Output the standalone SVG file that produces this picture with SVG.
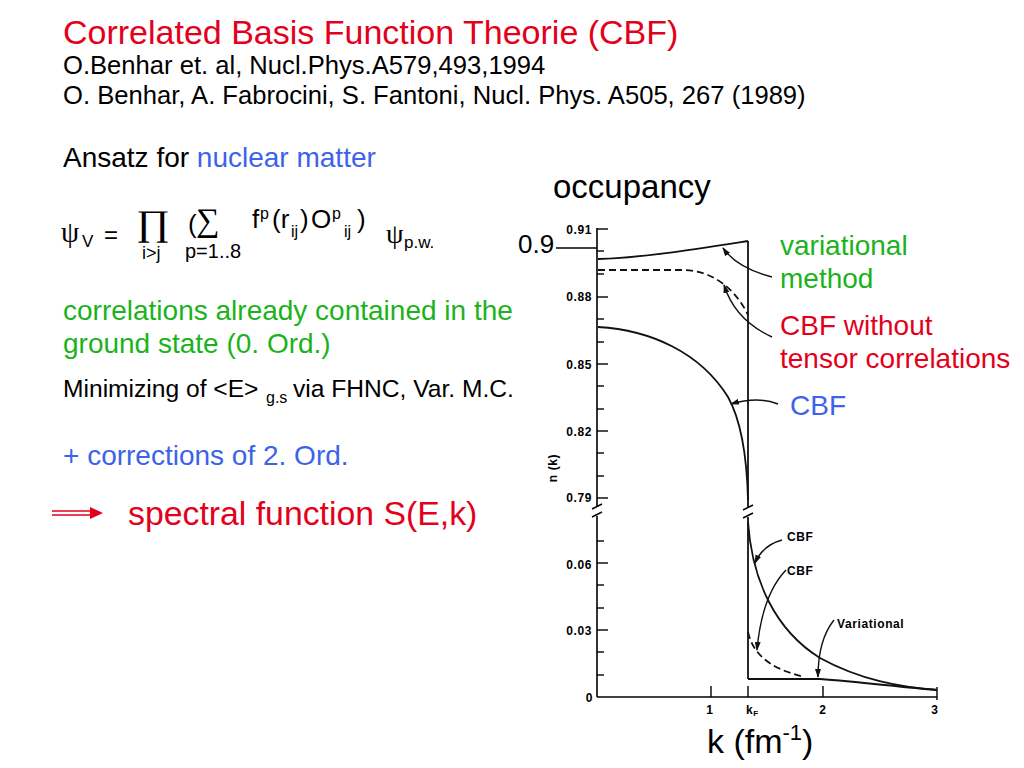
<svg xmlns="http://www.w3.org/2000/svg" width="1024" height="768" viewBox="0 0 1024 768">
<defs>
<style>
text{font-family:"Liberation Sans",Arial,Helvetica,sans-serif;fill:#000}
.red{fill:#e3001b}.green{fill:#1bb31b}.blue{fill:#3d63e8}
.serif{font-family:"Liberation Serif","Times New Roman",serif}
.fig{font-family:"Liberation Sans",Arial,sans-serif;font-size:12px;letter-spacing:0.6px;font-weight:bold}
.ax{stroke:#000;stroke-width:1.6;fill:none}
.cv{stroke:#111;stroke-width:1.8;fill:none}
.dash{stroke:#111;stroke-width:1.8;fill:none;stroke-dasharray:7,4}
.tk{stroke:#000;stroke-width:1.4}
.ann{stroke:#111;stroke-width:1.4;fill:none;marker-end:url(#ah)}
</style>
<marker id="ah" markerWidth="9" markerHeight="6" refX="8" refY="3" orient="auto" markerUnits="userSpaceOnUse">
<path d="M0,0 L9,3 L0,6 z" fill="#111"/>
</marker>
</defs>
<rect width="1024" height="768" fill="#fff"/>

<g id="title">
<text x="63" y="44" font-size="34" class="red">Correlated Basis Function Theorie (CBF)</text>
<text x="63" y="74" font-size="25.6">O.Benhar et. al, Nucl.Phys.A579,493,1994</text>
<text x="63" y="104" font-size="25.6">O. Benhar, A. Fabrocini, S. Fantoni, Nucl. Phys. A505, 267 (1989)</text>
</g>

<g id="ansatz">
<text x="63" y="167" font-size="28">Ansatz for <tspan class="blue">nuclear matter</tspan></text>
</g>

<g id="formula">
<text x="61" y="242" font-size="29" class="serif">ψ</text>
<text x="82" y="247" font-size="17">V</text>
<text x="104" y="243" font-size="24">=</text>
<text transform="translate(136,235) scale(1.15,1)" font-size="36" class="serif">∏</text>
<text x="142" y="259" font-size="18">i&gt;j</text>
<text x="188" y="233" font-size="26">(</text>
<text x="196" y="231" font-size="33" class="serif">∑</text>
<text x="185" y="258" font-size="20">p=1..8</text>
<text font-size="26" y="228"><tspan x="252">f</tspan><tspan x="260" y="219" font-size="16">p</tspan><tspan x="272" y="228">(r</tspan><tspan x="291" y="237" font-size="16">ij</tspan><tspan x="300" y="228">)</tspan><tspan x="311" y="228">O</tspan><tspan x="332" y="219" font-size="16">p</tspan><tspan x="344" y="237" font-size="16">ij</tspan><tspan x="357" y="228">)</tspan></text>
<text x="386" y="243" font-size="28" class="serif">ψ</text>
<text x="404" y="248" font-size="17">p.w.</text>
</g>

<g id="notes">
<text x="63" y="320" font-size="28" class="green">correlations already contained in the</text>
<text x="63" y="353" font-size="28" class="green">ground state (0. Ord.)</text>
<text x="63" y="397" font-size="24.6">Minimizing of &lt;E&gt;<tspan x="266" y="403" font-size="16">g.s</tspan><tspan x="293" y="397">via FHNC, Var. M.C.</tspan></text>
<text x="63" y="465" font-size="28" class="blue">+ corrections of 2. Ord.</text>
</g>

<g id="spectral">
<line x1="52" y1="511" x2="94" y2="511" stroke="#e3001b" stroke-width="1.6"/>
<line x1="52" y1="515" x2="94" y2="515" stroke="#e3001b" stroke-width="1.6"/>
<polygon points="90,507 103,513 90,519" fill="#e3001b"/>
<text x="128" y="525" font-size="33.8" class="red">spectral function S(E,k)</text>
</g>

<g id="labels">
<text x="553" y="198" font-size="33">occupancy</text>
<text x="518" y="253" font-size="26">0.9</text>
<line x1="556" y1="248" x2="597" y2="248" stroke="#000" stroke-width="1.4"/>
<text x="780" y="255" font-size="28" class="green">variational</text>
<text x="780" y="288" font-size="28" class="green">method</text>
<text x="780" y="335" font-size="28" class="red">CBF without</text>
<text x="780" y="368" font-size="28" class="red">tensor correlations</text>
<text x="790" y="415" font-size="28" class="blue">CBF</text>
<text x="707" y="753" font-size="34">k (fm<tspan dy="-13" font-size="22">-1</tspan><tspan dy="13">)</tspan></text>
</g>

<g id="plot">
<line class="ax" x1="597" y1="228" x2="597" y2="507"/>
<line class="ax" x1="597" y1="516" x2="597" y2="697"/>
<line class="tk" x1="592" y1="509" x2="602" y2="504"/>
<line class="tk" x1="592" y1="517" x2="602" y2="512"/>
<line class="ax" x1="597" y1="697" x2="937" y2="697"/>
<line class="tk" x1="937" y1="687" x2="937" y2="700"/>
<line class="tk" x1="711" y1="686" x2="711" y2="697"/>
<line class="tk" x1="748" y1="686" x2="748" y2="697"/>
<line class="tk" x1="823" y1="686" x2="823" y2="697"/>
<g class="tk">
<line x1="597" y1="229" x2="608" y2="229"/>
<line x1="597" y1="251" x2="604" y2="251"/>
<line x1="597" y1="274" x2="604" y2="274"/>
<line x1="597" y1="297" x2="608" y2="297"/>
<line x1="597" y1="319" x2="604" y2="319"/>
<line x1="597" y1="342" x2="604" y2="342"/>
<line x1="597" y1="364" x2="608" y2="364"/>
<line x1="597" y1="386" x2="604" y2="386"/>
<line x1="597" y1="409" x2="604" y2="409"/>
<line x1="597" y1="431" x2="608" y2="431"/>
<line x1="597" y1="453" x2="604" y2="453"/>
<line x1="597" y1="476" x2="604" y2="476"/>
<line x1="597" y1="498" x2="608" y2="498"/>
<line x1="597" y1="541" x2="604" y2="541"/>
<line x1="597" y1="563" x2="608" y2="563"/>
<line x1="597" y1="585" x2="604" y2="585"/>
<line x1="597" y1="608" x2="604" y2="608"/>
<line x1="597" y1="630" x2="608" y2="630"/>
<line x1="597" y1="652" x2="604" y2="652"/>
<line x1="597" y1="675" x2="604" y2="675"/>
</g>
<text class="fig" x="592" y="234" text-anchor="end">0.91</text>
<text class="fig" x="592" y="301" text-anchor="end">0.88</text>
<text class="fig" x="592" y="369" text-anchor="end">0.85</text>
<text class="fig" x="592" y="436" text-anchor="end">0.82</text>
<text class="fig" x="592" y="502" text-anchor="end">0.79</text>
<text class="fig" x="592" y="569" text-anchor="end">0.06</text>
<text class="fig" x="592" y="635" text-anchor="end">0.03</text>
<text class="fig" x="593" y="702" text-anchor="end">0</text>
<text class="fig" x="710" y="714" text-anchor="middle">1</text>
<text class="fig" x="746" y="714">k<tspan font-size="8" dy="2">F</tspan></text>
<text class="fig" x="823" y="714" text-anchor="middle">2</text>
<text class="fig" x="935" y="714" text-anchor="middle">3</text>
<text class="fig" font-size="10" transform="translate(557,468) rotate(-90)" text-anchor="middle">n (k)</text>
<line class="cv" x1="748" y1="241" x2="748" y2="507"/>
<line class="cv" x1="748" y1="517" x2="748" y2="679"/>
<line class="tk" x1="743" y1="510" x2="753" y2="505"/>
<line class="tk" x1="743" y1="518" x2="753" y2="513"/>
<path class="cv" d="M598,259 C640,258 690,250 748,241"/>
<path class="dash" d="M598,270 L685,270 C712,271 735,288 748,315"/>
<path class="cv" d="M598,327 C650,330 700,352 728,397 C742,422 747,460 748,500"/>
<path class="cv" d="M748,522 C752,580 775,630 820,658 C860,680 900,687 937,690"/>
<path class="dash" d="M748,632 C752,650 765,668 805,677"/>
<path class="cv" d="M748,679 L820,679 C860,682 900,687 937,690"/>
<text class="fig" x="787" y="541">CBF</text>
<text class="fig" x="787" y="575">CBF</text>
<text class="fig" x="837" y="628">Variational</text>
</g>

<g id="connectors">
<path class="ann" d="M772,277 Q737,268 723,248"/>
<path class="ann" d="M772,337 Q735,320 724,285"/>
<path class="ann" d="M778,404 Q758,396 731,404"/>
<path class="ann" d="M782,540 Q763,545 755,563"/>
<path class="ann" d="M786,570 Q762,595 757,650"/>
<path class="ann" d="M834,620 Q818,640 818,677"/>
</g>
</svg>
